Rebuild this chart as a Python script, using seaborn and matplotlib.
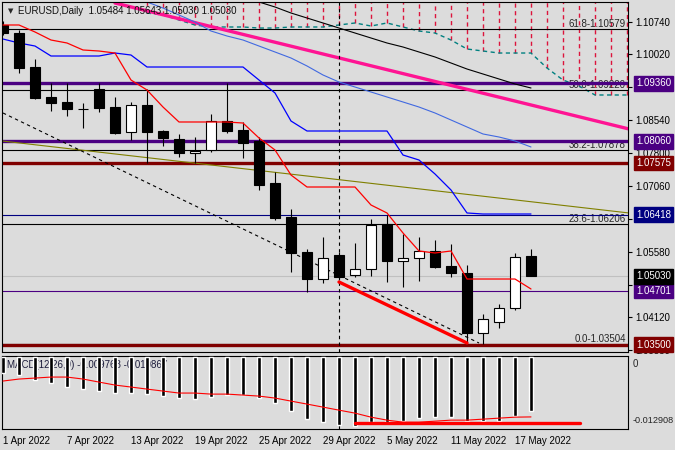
import matplotlib
matplotlib.use("Agg")
import matplotlib.pyplot as plt
import matplotlib.transforms as mtransforms
import numpy as np
import seaborn as sns

# ---- daily candles, 1 Apr 2022 .. 18 May 2022 (bar index 0..33)
opens = [1.10673, 1.10493, 1.09730, 1.09057, 1.08945, 1.08788, 1.09236, 1.08832, 1.08271, 1.08877,
         1.08294, 1.08114, 1.07800, 1.07868, 1.08518, 1.08316, 1.08070, 1.07127, 1.06364, 1.05578,
         1.04972, 1.05511, 1.05062, 1.05197, 1.06207, 1.05376, 1.05444, 1.05601, 1.05264, 1.05107,
         1.03760, 1.04007, 1.04322, 1.05484]
highs = [1.10760, 1.10560, 1.09910, 1.09371, 1.09371, 1.08922, 1.09371, 1.09057, 1.08945, 1.09236,
         1.08316, 1.08227, 1.08159, 1.08675, 1.09371, 1.08496, 1.08159, 1.07374, 1.06543, 1.05646,
         1.05915, 1.05578, 1.05781, 1.06319, 1.06409, 1.05982, 1.05915, 1.05848, 1.05758, 1.05287,
         1.04187, 1.04411, 1.05556, 1.05643]
lows = [1.10448, 1.09596, 1.09010, 1.08743, 1.08630, 1.08361, 1.08720, 1.08227, 1.08092, 1.07576,
        1.07957, 1.07710, 1.07576, 1.07823, 1.08249, 1.07688, 1.06970, 1.06296, 1.05130, 1.04681,
        1.04883, 1.04950, 1.05017, 1.05040, 1.04905, 1.04793, 1.04928, 1.05230, 1.05017, 1.03536,
        1.03513, 1.03873, 1.04277, 1.05030]
closes = [1.10493, 1.09708, 1.09034, 1.08922, 1.08788, 1.08780, 1.08810, 1.08249, 1.08877, 1.08271,
          1.08137, 1.07800, 1.07845, 1.08518, 1.08294, 1.08025, 1.07082, 1.06341, 1.05556, 1.04972,
          1.05444, 1.05017, 1.05197, 1.06184, 1.05376, 1.05444, 1.05601, 1.05242, 1.05107, 1.03760,
          1.04075, 1.04322, 1.05466, 1.05030]

# ichimoku / moving averages
tenkan = [1.10673, 1.10673, 1.10516, 1.10336, 1.10269, 1.10112, 1.10089, 1.10044, 1.09438, 1.09214,
          1.08832, 1.08496, 1.08496, 1.08496, 1.08496, 1.08473, 1.08137, 1.07868, 1.07306, 1.07037,
          1.07037, 1.07037, 1.07037, 1.06633, 1.06454, 1.06005, 1.05601, 1.05556, 1.05601, 1.04972,
          1.04972, 1.04972, 1.04972, 1.04748]
kijun = [1.10358, 1.10269, 1.10201, 1.09977, 1.09977, 1.09977, 1.09977, 1.10044, 1.09999, 1.09730,
         1.09730, 1.09730, 1.09730, 1.09730, 1.09730, 1.09730, 1.09438, 1.09147, 1.08518, 1.08294,
         1.08294, 1.08294, 1.08294, 1.08294, 1.08294, 1.07755, 1.07643, 1.07329, 1.06970, 1.06454,
         1.06431, 1.06431, 1.06431, 1.06431]
ma_fast_start = 8
ma_fast = [1.11323, 1.11189, 1.11054, 1.10897, 1.10740, 1.10538, 1.10426, 1.10336, 1.10201, 1.10067,
           1.09932, 1.09753, 1.09551, 1.09393, 1.09281, 1.09169, 1.09057, 1.08945, 1.08832, 1.08698,
           1.08541, 1.08384, 1.08227, 1.08159, 1.08070, 1.07935]
ma_slow_start = 15
ma_slow = [1.11301, 1.11189, 1.11077, 1.10942, 1.10830, 1.10718, 1.10605, 1.10493, 1.10381, 1.10269,
           1.10179, 1.10067, 1.09955, 1.09820, 1.09685, 1.09573, 1.09461, 1.09349, 1.09259]
span_start = 9
span_a = [1.10942, 1.10897, 1.10785, 1.10673, 1.10628, 1.10628, 1.10628, 1.10605, 1.10605, 1.10628,
          1.10628, 1.10628, 1.10673, 1.10718, 1.10650, 1.10718, 1.10628, 1.10538, 1.10493, 1.10336,
          1.10134, 1.10089, 1.10044, 1.10044, 1.10044, 1.09708, 1.09438, 1.09304, 1.09102, 1.09102,
          1.09102]
span_b = 1.1160  # above the visible range

# MACD(12,26,9)
macd_main = [-0.00291, -0.00327, -0.00418, -0.00473, -0.00545, -0.00582, -0.00618, -0.00654, -0.00654,
             -0.00673, -0.00709, -0.00745, -0.00764, -0.00727, -0.00691, -0.00691, -0.00745, -0.00836,
             -0.00982, -0.01127, -0.01182, -0.01236, -0.01254, -0.01182, -0.01182, -0.01164, -0.01109,
             -0.01091, -0.01091, -0.01164, -0.01164, -0.01164, -0.01073, -0.009768]
macd_signal = [-0.00436, -0.00400, -0.00382, -0.00364, -0.00364, -0.00400, -0.00455, -0.00509, -0.00545,
               -0.00582, -0.00618, -0.00654, -0.00654, -0.00673, -0.00673, -0.00691, -0.00709, -0.00745,
               -0.00800, -0.00854, -0.00909, -0.00964, -0.01018, -0.01091, -0.01145, -0.01182, -0.01182,
               -0.01164, -0.01145, -0.01145, -0.01127, -0.01109, -0.01091, -0.010867]

# drawn objects
fib_levels = [1.10579, 1.09220, 1.07878, 1.06206, 1.03504]
fib_names = ["61.8", "50.0", "38.2", "23.6", "0.0"]
hlines = [1.09360, 1.08060, 1.07575, 1.06418, 1.04701, 1.03500]
hline_colors = ["#4b0082", "#4b0082", "#800000", "#000080", "#4b0082", "#800000"]
hline_widths = [2.4, 2.4, 2.4, 0.8, 0.8, 2.4]
bid = 1.05030
magenta_x, magenta_y = [7.0, 39.125], [1.11166, 1.08339]
olive_x, olive_y = [-0.0625, 39.125], [1.08070, 1.06454]
channel_x, channel_y = [0.0, 29.75], [1.08698, 1.03536]
red_tl_x, red_tl_y = [21.0, 29.0], [1.04905, 1.03536]
macd_tl_x, macd_tl_y = [22.0, 36.06], [-0.01200, -0.01200]
vline_bar = 21

price_ticks = [1.10740, 1.10020, 1.09280, 1.08540, 1.07800, 1.07060, 1.06320, 1.05580, 1.04840,
               1.04120, 1.03380]
date_pos = [0, 4, 8, 12, 16, 20, 24, 28, 32]
date_labels = ["1 Apr 2022", "7 Apr 2022", "13 Apr 2022", "19 Apr 2022", "25 Apr 2022",
               "29 Apr 2022", "5 May 2022", "11 May 2022", "17 May 2022"]

bg = "#dcdcdc"
sns.set_theme(style="white")
plt.rcParams["font.family"] = ["Liberation Sans", "DejaVu Sans"]
plt.rcParams["font.size"] = 7

fig = plt.figure(figsize=(6.75, 4.5), dpi=100)
fig.patch.set_facecolor(bg)
ax = fig.add_axes([2 / 675, 1 - 352 / 450, 626 / 675, 350 / 450])
ax2 = fig.add_axes([2 / 675, 1 - 429 / 450, 626 / 675, 73 / 450])
for a in (ax, ax2):
    a.set_facecolor(bg)
    for s in a.spines.values():
        s.set_color("black")
        s.set_linewidth(0.8)
    a.set_xlim(-0.0625, 39.0625)

ax.set_ylim(1.03334, 1.11189)
ax2.set_ylim(-0.012908 - 0.00015, 0.00018)

x = np.arange(len(opens))
o, c = np.array(opens), np.array(closes)

# ichimoku cloud hatch
sx = np.arange(span_start, span_start + len(span_a))
ax.vlines(sx, span_a, span_b, color="#dc143c", lw=1.0, linestyles=(0, (3, 2.5)), zorder=1)
ax.plot(sx, span_a, color="#008080", lw=1.0, ls=(0, (3, 2.5)), zorder=1)

# levels
for lv, name in zip(fib_levels, fib_names):
    ax.axhline(lv, color="black", lw=0.8, zorder=1)
    ax.text(38.94, lv, f"{name}-{lv:.5f}", ha="right", va="bottom", fontsize=7, zorder=1)
ax.axhline(bid, color="#c0c0c0", lw=0.8, zorder=1)
for lv, col, lw in zip(hlines, hline_colors, hline_widths):
    ax.axhline(lv, color=col, lw=lw, zorder=2)

# trend lines
ax.plot(magenta_x, magenta_y, color="#ff1493", lw=2.4, zorder=2)
ax.plot(olive_x, olive_y, color="#808000", lw=0.8, zorder=2)
ax.plot(channel_x, channel_y, color="black", lw=0.8, ls=(0, (3, 3)), zorder=2)
ax.plot(red_tl_x, red_tl_y, color="red", lw=2.4, zorder=5)
for a in (ax, ax2):
    a.axvline(vline_bar, color="black", lw=0.8, ls=(0, (3, 3)), zorder=2)

# moving averages / ichimoku lines
sns.lineplot(x=np.arange(ma_slow_start, ma_slow_start + len(ma_slow)), y=ma_slow, ax=ax,
             color="black", lw=0.8, zorder=2)
sns.lineplot(x=np.arange(ma_fast_start, ma_fast_start + len(ma_fast)), y=ma_fast, ax=ax,
             color="#4169e1", lw=0.8, zorder=2)
sns.lineplot(x=x, y=kijun, ax=ax, color="#0000ff", lw=0.9, zorder=2)
sns.lineplot(x=x, y=tenkan, ax=ax, color="#ff0000", lw=0.9, zorder=6)

# candles
bull = c >= o
ax.vlines(x, lows, highs, color="black", lw=0.8, zorder=3)
ax.bar(x, np.maximum(np.abs(c - o), 0.00003), bottom=np.minimum(o, c), width=0.62,
       color=np.where(bull, "white", "black"), edgecolor="black", linewidth=0.8, zorder=4)

# right axis of price pane
ax.yaxis.tick_right()
ax.set_yticks(price_ticks)
ax.set_yticklabels([f"{t:.5f}" for t in price_ticks])
ax.tick_params(axis="y", length=3, width=0.8, pad=2, labelsize=7, colors="black")
ax.set_xticks(np.arange(0, 40))
ax.tick_params(axis="x", length=3, width=0.8, labelbottom=False, colors="black")
ax.set_xlabel(None)
ax.set_ylabel(None)

bt = mtransforms.blended_transform_factory(ax.transAxes, ax.transData)
for lv, col in zip(hlines + [bid], hline_colors + ["black"]):
    ax.text(1.0125, lv, f"{lv:.5f}", transform=bt, color="white", fontsize=7, va="center", ha="left",
            bbox=dict(boxstyle="square,pad=0.22", fc=col, ec=col), zorder=10, clip_on=False)

ax.text(0.0135, 0.975, "\u25bc", transform=ax.transAxes, fontsize=5, va="center", ha="center",
        family="DejaVu Sans")
ax.text(0.0256, 0.975, "EURUSD,Daily  1.05484 1.05643 1.05030 1.05030", transform=ax.transAxes,
        fontsize=7, va="center", ha="left", color="#111111", zorder=7)

# MACD pane
ax2.bar(x, macd_main, width=0.19, color="black", zorder=3)
sns.lineplot(x=x, y=macd_signal, ax=ax2, color="red", lw=0.8, zorder=4)
ax2.plot(macd_tl_x, macd_tl_y, color="red", lw=2.4, zorder=5)
ax2.text(0.008, 0.877, "MACD(12,26,9) -0.009768 -0.010867", transform=ax2.transAxes,
         fontsize=7, va="center", ha="left", color="#1a1a3a", zorder=1)
ax2.set_yticks([])
ax2.yaxis.tick_right()
bt2 = mtransforms.blended_transform_factory(ax2.transAxes, ax2.transData)
ax2.text(1.008, -0.0003, "0", transform=bt2, va="top", ha="left", fontsize=7, clip_on=False)
ax2.text(1.008, -0.0124, "-0.012908", transform=bt2, va="bottom", ha="left", fontsize=6.6,
         clip_on=False)
ax2.set_xticks(np.arange(0, 40))
ax2.set_xticklabels([date_labels[date_pos.index(i)] if i in date_pos else "" for i in range(40)],
                    ha="left")
ax2.tick_params(axis="x", length=3, width=0.8, pad=2, labelsize=7, colors="black")
ax2.set_xlabel(None)
ax2.set_ylabel(None)

fig.savefig("out.png", dpi=100, facecolor=bg)
